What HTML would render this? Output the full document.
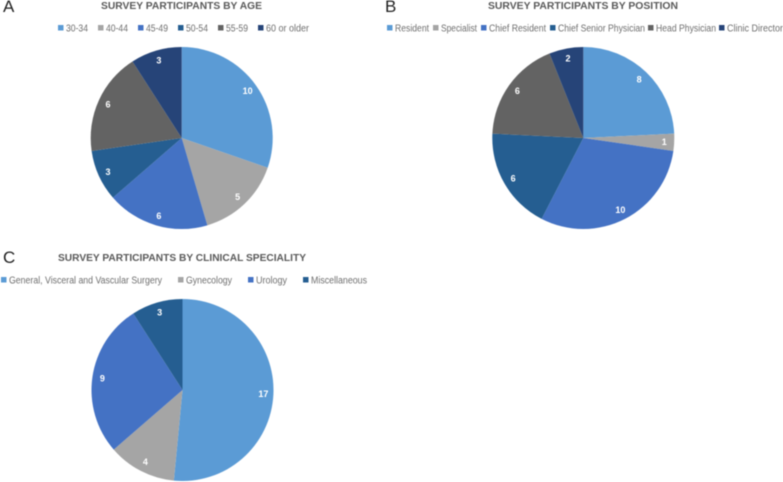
<!DOCTYPE html>
<html lang="en">
<head>
<meta charset="utf-8">
<title>Survey participants</title>
<style>
  html, body { margin: 0; padding: 0; background: #fff; }
  #figure { display: block; width: 783px; height: 482px; filter: blur(0.45px); }
  text { font-family: "Liberation Sans", sans-serif; }
</style>
</head>
<body>
<svg id="figure" xmlns="http://www.w3.org/2000/svg" width="783" height="482" viewBox="0 0 783 482"></svg>
<script>
const ageCategories = ['30-34', '40-44', '45-49', '50-54', '55-59', '60 or older'];
const ageValues = [10, 5, 6, 3, 6, 3];
const positionCategories = ['Resident', 'Specialist', 'Chief Resident', 'Chief Senior Physician', 'Head Physician', 'Clinic Director'];
const positionValues = [8, 1, 10, 6, 6, 2];
const specialityCategories = ['General, Visceral and Vascular Surgery', 'Gynecology', 'Urology', 'Miscellaneous'];
const specialityValues = [17, 4, 9, 3];

const sliceColors = ['#5B9BD5', '#A5A5A5', '#4472C4', '#255E91', '#636363', '#264478'];

const charts = [
  {
    key: 'age', letter: 'A', letterX: 3, letterY: 12,
    title: 'SURVEY PARTICIPANTS  BY AGE', titleX: 101, titleW: 161, titleY: 9,
    categories: ageCategories, values: ageValues,
    cx: 181.7, cy: 138, r: 91, legendY: 28,
    legendStart: [58, 98, 138, 178, 218, 258],
    legendWidth: [22, 22, 22, 22, 22, 43]
  },
  {
    key: 'position', letter: 'B', letterX: 385, letterY: 12,
    title: 'SURVEY PARTICIPANTS  BY POSITION', titleX: 488, titleW: 190, titleY: 9,
    categories: positionCategories, values: positionValues,
    cx: 583.3, cy: 138, r: 91, legendY: 28,
    legendStart: [387, 433, 481, 550, 648, 719],
    legendWidth: [34, 36, 57, 87, 60, 56]
  },
  {
    key: 'speciality', letter: 'C', letterX: 3, letterY: 263,
    title: 'SURVEY PARTICIPANTS  BY CLINICAL SPECIALITY', titleX: 58, titleW: 248, titleY: 261,
    categories: specialityCategories, values: specialityValues,
    cx: 182.5, cy: 390, r: 91, legendY: 280,
    legendStart: [1, 178, 248, 303],
    legendWidth: [153, 46, 31, 56]
  }
];

const NS = 'http://www.w3.org/2000/svg';
const svg = document.getElementById('figure');

function make(tag, attrs, parent, content) {
  const el = document.createElementNS(NS, tag);
  Object.keys(attrs).forEach(function (k) { el.setAttribute(k, attrs[k]); });
  if (content !== undefined) el.textContent = content;
  parent.appendChild(el);
  return el;
}

function polar(cx, cy, radius, angle) {
  return [cx + radius * Math.sin(angle), cy - radius * Math.cos(angle)];
}

charts.forEach(function (chart) {
  const group = make('g', {}, svg);
  
  

  const letter = make('text', { x: chart.letterX, y: chart.letterY, 'font-size': 17, fill: '#222' }, group, chart.letter);
  
  

  const title = make('text', {
    x: chart.titleX, y: chart.titleY, 'font-size': 10.5, 'font-weight': 'bold', fill: '#595959',
    textLength: chart.titleW, lengthAdjust: 'spacingAndGlyphs'
  }, group, chart.title);
  
  

  chart.categories.forEach(function (name, i) {
    const x = chart.legendStart[i];
    const entry = make('g', {}, group);
    
    
    make('rect', { x: x, y: chart.legendY - 3, width: 5.5, height: 5.5, fill: sliceColors[i] }, entry);
    make('text', {
      x: x + 8, y: chart.legendY + 3.4, 'font-size': 10, fill: '#6f6f6f',
      textLength: chart.legendWidth[i], lengthAdjust: 'spacingAndGlyphs'
    }, entry, name);
  });

  const total = chart.values.reduce(function (a, b) { return a + b; }, 0);
  let running = 0;
  chart.values.forEach(function (value, i) {
    const start = running / total * Math.PI * 2;
    running += value;
    const end = running / total * Math.PI * 2;
    const p0 = polar(chart.cx, chart.cy, chart.r, start);
    const p1 = polar(chart.cx, chart.cy, chart.r, end);
    const large = end - start > Math.PI ? 1 : 0;
    const d = 'M' + chart.cx + ' ' + chart.cy + 'L' + p0[0] + ' ' + p0[1] +
      'A' + chart.r + ' ' + chart.r + ' 0 ' + large + ' 1 ' + p1[0] + ' ' + p1[1] + 'Z';
    const slice = make('path', { d: d, fill: sliceColors[i] }, group);
    
    
  });

  running = 0;
  chart.values.forEach(function (value, i) {
    const mid = (running + value / 2) / total * Math.PI * 2;
    running += value;
    const pos = polar(chart.cx, chart.cy, chart.r * 0.89, mid);
    const label = make('text', {
      x: pos[0], y: pos[1] + 3.2, 'font-size': 9, 'font-weight': 'bold',
      fill: '#fff', 'text-anchor': 'middle'
    }, group, String(value));
    
    
  });
});
</script>
</body>
</html>
